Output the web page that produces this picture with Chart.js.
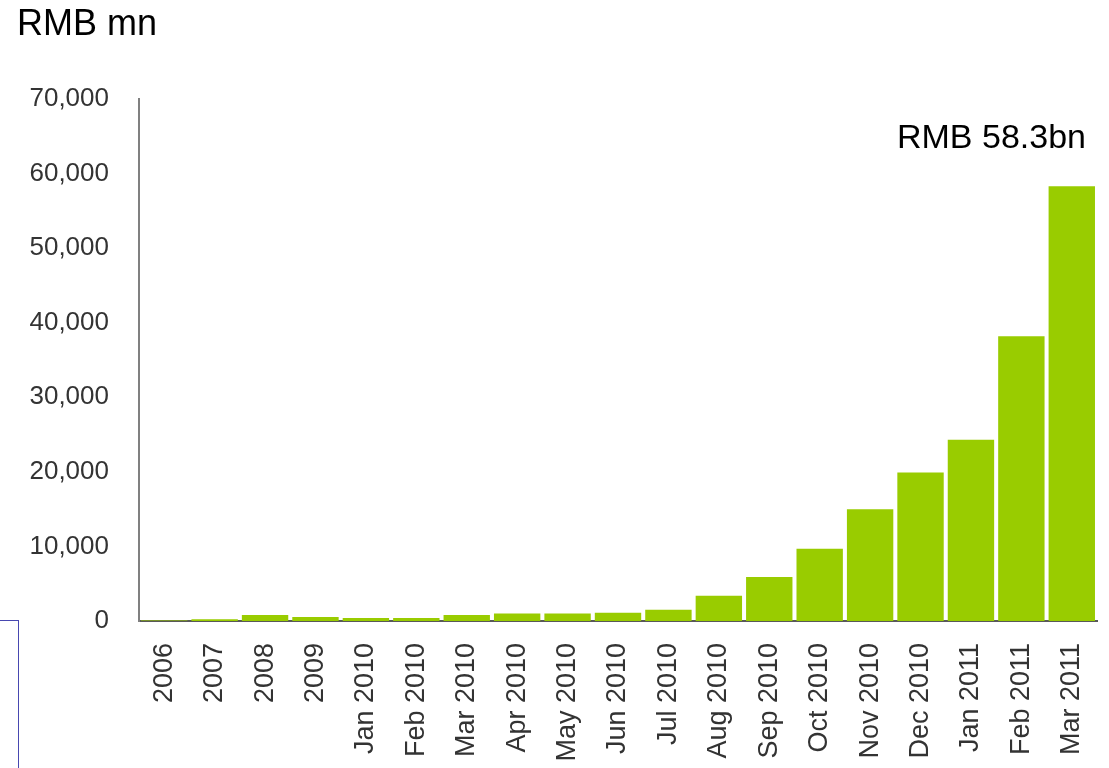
<!DOCTYPE html>
<html>
<head>
<meta charset="utf-8">
<script src="https://cdn.jsdelivr.net/npm/chart.js@4"></script>
<style>
  html, body { margin: 0; padding: 0; background: #fff; }
  #wrap { position: relative; width: 1109px; height: 768px; overflow: hidden; }
  #box { position: absolute; left: -2px; top: 620px; width: 20px; height: 160px;
         border-top: 1px solid #4848b0; border-right: 1px solid #4848b0; }
</style>
</head>
<body>
<div id="wrap">
  <canvas id="chart" width="1109" height="768"></canvas>
  <div id="box"></div>
</div>
<script>
const labels = ['2006', '2007', '2008', '2009', 'Jan 2010', 'Feb 2010', 'Mar 2010', 'Apr 2010',
  'May 2010', 'Jun 2010', 'Jul 2010', 'Aug 2010', 'Sep 2010', 'Oct 2010', 'Nov 2010',
  'Dec 2010', 'Jan 2011', 'Feb 2011', 'Mar 2011'];
const values = [60, 250, 800, 550, 400, 400, 800, 1000, 1000, 1100, 1500, 3400, 5900,
  9700, 15000, 19900, 24300, 38200, 58300];
const unitTitle = 'RMB mn';
const lastNote = 'RMB 58.3bn';

const ctx = document.getElementById('chart').getContext('2d');
const FONT = '"Liberation Sans", Arial, sans-serif';

// draws the unit title and the note over the last bar
const textPlugin = {
    id: 'texts',
    afterDraw(chart) {
        const c = chart.ctx;
        const y = chart.scales.y;
        const meta = chart.getDatasetMeta(0);
        const last = meta.data[meta.data.length - 1];
        c.save();
        c.fillStyle = '#000';
        c.textBaseline = 'middle';
        c.font = '36px ' + FONT;
        c.textAlign = 'left';
        c.fillText(unitTitle, 17, 25);
        c.font = '34px ' + FONT;
        c.textAlign = 'right';
        c.fillText(lastNote, last.x + last.width / 2 - 9, y.getPixelForValue(64700));
        c.restore();
    }
};

new Chart(ctx, {
    type: 'bar',
    data: {
        labels: labels,
        datasets: [{
            data: values,
            backgroundColor: '#99cc00',
            barPercentage: 0.92,
            categoryPercentage: 1.0
        }]
    },
    options: {
        responsive: false,
        animation: false,
        layout: { padding: { top: 99, right: 12, left: 0, bottom: 0 } },
        plugins: {
            legend: { display: false },
            tooltip: { enabled: false }
        },
        scales: {
            x: {
                grid: { display: false, drawTicks: false },
                border: { color: '#595959', width: 2 },
                afterFit(s) {
                    s.height = 147;
                    s.paddingLeft = 0;
                    s.paddingRight = 0;
                },
                ticks: {
                    color: '#333',
                    font: { family: FONT, size: 27 },
                    maxRotation: 90,
                    minRotation: 90,
                    padding: 22,
                    autoSkip: false
                }
            },
            y: {
                min: 0,
                max: 70000,
                grid: { display: false, drawTicks: false },
                border: { color: '#808080', width: 2 },
                afterFit(s) { s.width = 139; },
                ticks: {
                    stepSize: 10000,
                    color: '#333',
                    padding: 30,
                    font: { family: FONT, size: 26 },
                    callback: v => v.toLocaleString('en-US')
                }
            }
        }
    },
    plugins: [textPlugin]
});
</script>
</body>
</html>
